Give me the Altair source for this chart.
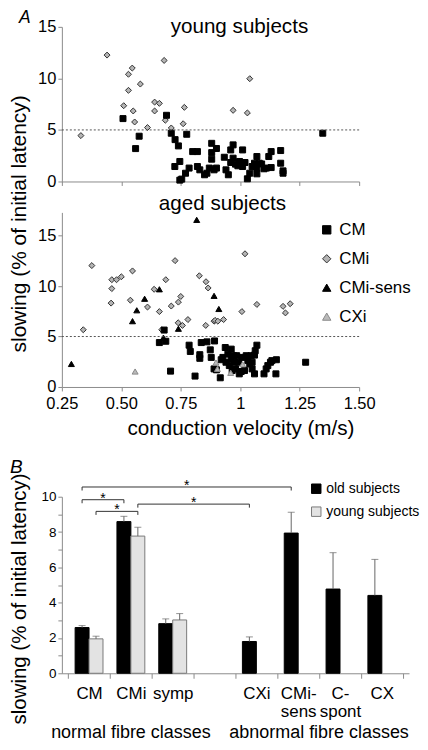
import altair as alt
import pandas as pd

FONT = "Liberation Sans"

# ---------------- Panel A data ----------------
# young subjects
young_cm_cv = [0.507, 0.69, 0.575, 0.56, 0.71, 0.775, 0.726, 0.74, 0.725, 0.746,
               0.746, 0.754, 0.80, 0.82, 0.77, 0.785, 0.82, 0.83, 0.85, 0.86,
               0.87, 0.88, 0.88, 0.88, 0.89, 0.90, 0.90, 0.933, 0.94, 0.95,
               0.96, 0.96, 0.97, 0.97, 0.98, 0.99, 0.997, 1.01, 1.01, 1.02,
               1.03, 1.04, 1.05, 1.06, 1.07, 1.07, 1.07, 1.08, 1.09, 1.10,
               1.11, 1.12, 1.13, 1.13, 1.17, 1.17, 1.18, 1.18, 1.347]
young_cm_slow = [6.1, 6.42, 4.39, 3.19, 4.68, 4.58, 4.06, 3.45, 1.45, 1.94,
                 0.13, 0.23, 2.9, 2.9, 0.8, 1.3, 1.45, 1.13, 0.65, 0.8,
                 1.3, 3.7, 2.8, 2.16, 1.13, 3.2, 1.3, 2.35, 1.13, 0.65,
                 1.84, 3.06, 3.55, 2.26, 1.68, 1.52, 1.94, 3.06, 1.45, 1.84,
                 0.26, 0.8, 1.45, 1.77, 2.42, 1.3, 0.74, 1.77, 1.7, 1.23,
                 1.3, 2.42, 1.35, 2.9, 3.0, 1.77, 1.03, 0.8, 4.68]
young_cmi_cv = [0.33, 0.44, 0.53, 0.546, 0.53, 0.58, 0.51, 0.55, 0.556, 0.61,
                0.64, 0.66, 0.64, 0.68, 0.685, 0.71, 0.76, 0.765, 0.97, 1.03, 1.04]
young_cmi_slow = [4.45, 12.26, 10.4, 11.0, 8.84, 9.45, 7.35, 6.84, 5.77, 5.23,
                  7.7, 7.58, 6.84, 11.74, 5.94, 5.19, 5.6, 7.19, 6.9, 6.65, 9.97]

# aged subjects
aged_cm_cv = [0.66, 0.68, 0.687, 0.707, 0.785, 0.79, 0.81, 0.83, 0.83, 0.836,
              0.86, 0.874, 0.878, 0.892, 0.89, 0.90, 0.916, 0.92, 0.927, 0.937,
              0.94, 0.948, 0.954, 0.962, 0.962, 0.966, 0.972, 0.976, 0.98, 0.985,
              0.993, 0.996, 1.004, 1.007, 1.018, 1.025, 1.032, 1.04, 1.046, 1.05,
              1.05, 1.06, 1.063, 1.07, 1.06, 1.10, 1.109, 1.116, 1.127, 1.133,
              1.152, 1.15, 1.275]
aged_cm_slow = [4.4, 5.64, 4.53, 1.57, 4.14, 3.52, 1.08, 3.2, 2.84, 4.4,
                4.47, 3.68, 2.93, 4.56, 1.79, 1.7, 0.91, 2.7, 2.93, 3.91,
                2.45, 3.26, 2.12, 3.75, 2.77, 1.63, 3.1, 2.45, 1.79, 3.1,
                2.45, 1.3, 1.53, 2.93, 1.63, 3.1, 2.61, 2.28, 3.1, 1.79,
                2.45, 3.16, 3.59, 4.14, 1.3, 1.3, 1.79, 2.12, 2.45, 2.61,
                2.7, 1.3, 2.45]
aged_cmi_cv = [0.34, 0.376, 0.457, 0.46, 0.46, 0.48, 0.50, 0.538, 0.547, 0.61,
               0.638, 0.66, 0.67, 0.687, 0.71, 0.726, 0.74, 0.75, 0.739, 0.757,
               0.78, 0.828, 0.856, 0.865, 0.855, 0.89, 0.894, 0.906, 0.93, 1.007,
               1.02, 1.07, 1.18, 1.19, 1.21]
aged_cmi_slow = [5.67, 12.03, 8.31, 9.75, 10.63, 10.63, 10.92, 8.6, 11.5, 7.92,
                 9.68, 7.47, 5.67, 10.63, 8.02, 12.52, 8.41, 8.97, 6.36, 6.1,
                 6.68, 11.02, 10.43, 9.81, 6.1, 6.52, 6.6, 6.52, 6.68, 7.47,
                 13.2, 8.18, 7.99, 7.34, 8.25]
aged_sens_cv = [0.29, 0.547, 0.565, 0.598, 0.66, 0.677, 0.74, 0.817, 0.89, 0.91]
aged_sens_slow = [2.28, 6.52, 7.6, 8.74, 9.68, 4.89, 5.77, 16.56, 9.03, 7.73]
aged_cxi_cv = [0.558, 0.898, 0.904, 0.96, 1.01]
aged_cxi_slow = [1.53, 2.42, 1.79, 1.4, 2.25]

fibre_types = ["CM", "CMi", "CMi-sens", "CXi"]
type_fill = ["#000000", "#b4b4b4", "#000000", "#bababa"]
type_stroke = ["#000000", "#333333", "#000000", "#8a8a8a"]
type_shape = ["square", "diamond", "triangle-up", "triangle-up"]
draw_order = {"CMi": 0, "CM": 1, "CMi-sens": 2, "CXi": 3}
cv_ticks = [0.25, 0.5, 0.75, 1.0, 1.25, 1.5]

# panel letters
panel_letters = ["A", "B"]

# ---------------- Panel B data ----------------
classes = ["CM", "CMi", "symp", " ", "CXi", "CMi-sens", "C-spont", "CX"]
groups = ["old subjects", "young subjects"]
old_mean = [2.59, 8.59, 2.81, None, 1.80, 7.94, 4.77, 4.41]
old_sem = [0.11, 0.30, 0.27, None, 0.26, 1.18, 2.06, 2.04]
young_mean = [1.95, 7.77, 3.02, None, None, None, None, None]
young_sem = [0.15, 0.50, 0.36, None, None, None, None, None]

brk_from_cls = ["CM", "CM", "CM", "CMi"]
brk_from_grp = ["old subjects", "old subjects", "young subjects", "young subjects"]
brk_to_cls = ["CMi-sens", "CMi", "CMi", "CXi"]
brk_to_grp = ["old subjects", "old subjects", "young subjects", "old subjects"]
brk_level = [10.55, 9.83, 9.17, 9.58]
brk_drop = 0.2


def frame(cv, slow, t):
    return pd.DataFrame({"cv": cv, "slow": slow, "type": t, "z": draw_order[t]})


young_df = pd.concat([frame(young_cmi_cv, young_cmi_slow, "CMi"),
                      frame(young_cm_cv, young_cm_slow, "CM")])
aged_df = pd.concat([frame(aged_cmi_cv, aged_cmi_slow, "CMi"),
                     frame(aged_cm_cv, aged_cm_slow, "CM"),
                     frame(aged_sens_cv, aged_sens_slow, "CMi-sens"),
                     frame(aged_cxi_cv, aged_cxi_slow, "CXi")])

SW = 298
TOP_H = 155
BOT_H = 175


def letter(txt, size, lx, ly):
    return alt.Chart(pd.DataFrame({"t": [txt]})).mark_text(
        font=FONT, fontSize=size, fontStyle="italic", align="left",
        baseline="top", color="black").encode(
        text="t:N", x=alt.value(lx), y=alt.value(ly))


def scatter(df, ymax, height, top, label, label_x, label_y):
    xs = alt.Scale(domain=[0.25, 1.5], nice=False, zero=False)
    ys = alt.Scale(domain=[0, ymax], nice=False)
    if top:
        xa = alt.Axis(values=cv_ticks, labels=False, tickSize=4, title=None)
        ya = alt.Axis(values=[0, 5, 10, 15], tickSize=4, labelFontSize=16.5,
                      labelPadding=2, labelOverlap=False,
                      title="slowing (% of initial latency)",
                      titleFontSize=21, titleFontWeight="normal", titleX=-42,
                      titleY=197, titleAngle=270, titleBaseline="middle",
                      titleAlign="center")
        leg = None
    else:
        xa = alt.Axis(values=cv_ticks, tickSize=4, labelFontSize=16.5,
                      labelPadding=5, labelFlush=False, labelOverlap=False,
                      labelExpr="datum.value == 1 ? '1' : format(datum.value, '.2f')",
                      title="conduction velocity (m/s)", titleFontSize=20.7,
                      titleFontWeight="normal", titleX=179, titleY=48,
                      titleBaseline="alphabetic", titleAlign="center")
        ya = alt.Axis(values=[0, 5, 10, 15], tickSize=4, labelFontSize=16.5,
                      labelPadding=2, labelOverlap=False, title=None)
        leg = alt.Legend(orient="none", legendX=257, legendY=9, title=None,
                         labelFontSize=17, labelFont=FONT, symbolSize=70,
                         symbolStrokeWidth=1, rowPadding=11, labelOffset=4)
    pts = alt.Chart(df).mark_point(filled=True, strokeWidth=1, opacity=1, size=36).encode(
        x=alt.X("cv:Q", scale=xs, axis=xa),
        y=alt.Y("slow:Q", scale=ys, axis=ya),
        fill=alt.Fill("type:N", scale=alt.Scale(domain=fibre_types, range=type_fill), legend=leg),
        stroke=alt.Stroke("type:N", scale=alt.Scale(domain=fibre_types, range=type_stroke), legend=leg),
        shape=alt.Shape("type:N", scale=alt.Scale(domain=fibre_types, range=type_shape), legend=leg),
        order=alt.Order("z:Q"),
    )
    ref = alt.Chart(pd.DataFrame({"slow": [5]})).mark_rule(
        strokeDash=[2, 2], color="#555555", strokeWidth=1).encode(
        y=alt.Y("slow:Q", scale=ys, axis=ya))
    ttl = alt.Chart(pd.DataFrame({"t": [label]})).mark_text(
        font=FONT, fontSize=20.7, align="center", baseline="alphabetic", color="black").encode(
        text="t:N", x=alt.value(label_x), y=alt.value(label_y))
    layers = [pts, ref, ttl]
    if top:
        layers.append(letter(panel_letters[0], 17.5, -43, -18))
    return alt.layer(*layers).properties(width=SW, height=height)


top_chart = scatter(young_df, 15, TOP_H, True, "young subjects", 178, 6)
bot_chart = scatter(aged_df, 17.3, BOT_H, False, "aged subjects", 161, -2.5)

# ---------------- Panel B chart ----------------
BW = 348
BH = 177
PO = 0.15

bar_rows = []
for i, c in enumerate(classes):
    if old_mean[i] is not None:
        bar_rows.append({"cls": c, "grp": groups[0], "mean": old_mean[i],
                         "top": old_mean[i] + old_sem[i]})
    if young_mean[i] is not None:
        bar_rows.append({"cls": c, "grp": groups[1], "mean": young_mean[i],
                         "top": young_mean[i] + young_sem[i]})
bar_df = pd.DataFrame(bar_rows)

xscale = alt.Scale(domain=classes, paddingInner=0, paddingOuter=PO)
oscale = alt.Scale(domain=groups, paddingInner=0, paddingOuter=0.5)
yscale = alt.Scale(domain=[0, 10], nice=False)

label_expr = ("datum.value == 'CMi-sens' ? ['CMi-', 'sens'] : "
              "datum.value == 'C-spont' ? ['C-', 'spont'] : datum.value")
bx_axis = alt.Axis(title=None, labelExpr=label_expr, tickBand="extent", tickSize=5,
                   labelFontSize=17, labelLineHeight=18, labelPadding=7, labelAngle=0)
by_axis = alt.Axis(values=list(range(11)), labelExpr="datum.value % 2 == 0 ? datum.label : ''",
                   tickSize=4, labelFontSize=13.5, labelPadding=2, labelOverlap=False,
                   title="slowing (% of initial latency)", titleFontSize=20.5,
                   titleFontWeight="normal", titleX=-42, titleY=102, titleAngle=270,
                   titleBaseline="middle", titleAlign="center")

bar_leg = alt.Legend(orient="none", legendX=248, legendY=-15, title=None,
                     labelFontSize=14, labelFont=FONT, symbolType="square",
                     symbolSize=90, symbolStrokeWidth=1, rowPadding=9, labelOffset=3)


def bx():
    return alt.X("cls:N", scale=xscale, axis=bx_axis)


def bxo():
    return alt.XOffset("grp:N", scale=oscale)


def by(field):
    return alt.Y(field, scale=yscale, axis=by_axis)


bars = alt.Chart(bar_df).mark_bar(strokeWidth=1).encode(
    x=bx(), xOffset=bxo(), y=by("mean:Q"),
    fill=alt.Fill("grp:N", scale=alt.Scale(domain=groups, range=["#000000", "#e3e3e3"]), legend=bar_leg),
    stroke=alt.Stroke("grp:N", scale=alt.Scale(domain=groups, range=["#000000", "#7a7a7a"]), legend=bar_leg),
)
err = alt.Chart(bar_df).mark_rule(color="#666666", strokeWidth=1).encode(
    x=bx(), xOffset=bxo(), y=by("mean:Q"), y2="top:Q",
)
caps = alt.Chart(bar_df).mark_tick(color="#666666", thickness=1, size=7).encode(
    x=bx(), xOffset=bxo(), y=by("top:Q"),
)

brk_rows = []
for b in range(len(brk_level)):
    pts = [(brk_from_cls[b], brk_from_grp[b], brk_level[b] - brk_drop),
           (brk_from_cls[b], brk_from_grp[b], brk_level[b]),
           (brk_to_cls[b], brk_to_grp[b], brk_level[b]),
           (brk_to_cls[b], brk_to_grp[b], brk_level[b] - brk_drop)]
    for s, (c, g, v) in enumerate(pts):
        brk_rows.append({"id": b, "seq": s, "cls": c, "grp": g, "mean": v})
brk_df = pd.DataFrame(brk_rows)

brackets = alt.Chart(brk_df).mark_line(color="#333333", strokeWidth=1).encode(
    x=bx(), xOffset=bxo(), y=by("mean:Q"),
    detail="id:N",
    order="seq:Q",
)

# star positions: midpoint between the two bracket ends, derived from the band scale
step = BW / (len(classes) + 2 * PO)
ostep = step / (len(groups) + 2 * 0.5)


def band_pos(c, g):
    return (PO + classes.index(c)) * step + (0.5 + 0.5 + groups.index(g)) * ostep


star_layers = []
for b in range(len(brk_level)):
    half = (band_pos(brk_to_cls[b], brk_to_grp[b]) - band_pos(brk_from_cls[b], brk_from_grp[b])) / 2
    sdf = pd.DataFrame({"cls": [brk_from_cls[b]], "grp": [brk_from_grp[b]],
                        "mean": [brk_level[b]], "t": ["*"]})
    star_layers.append(alt.Chart(sdf).mark_text(
        font=FONT, fontSize=14, baseline="alphabetic", align="center", dx=half, dy=3,
        color="black").encode(
        x=bx(), xOffset=bxo(), y=by("mean:Q"), text="t:N"))

group_labels = ["normal fibre classes", "abnormal fibre classes"]
group_anchor = ["CMi", "C-spont"]
group_dx = [0, -step / 2]
group_layers = []
for k in range(2):
    gdf = pd.DataFrame({"cls": [group_anchor[k]], "t": [group_labels[k]]})
    group_layers.append(alt.Chart(gdf).mark_text(
        font=FONT, fontSize=18, baseline="alphabetic", align="center", dx=group_dx[k],
        color="black").encode(
        x=bx(), y=alt.value(242), text="t:N"))

# panel letter "B" as the chart title, anchored at the left edge of the panel's bounds
bar_chart = alt.layer(bars, err, caps, brackets, *star_layers, *group_layers).properties(
    width=BW, height=BH,
    title=alt.Title(panel_letters[1], anchor="start", frame="bounds", orient="top",
                    font=FONT, fontSize=19, fontStyle="italic", fontWeight="normal",
                    color="black", offset=0, dy=4))

# empty gap between panel A and panel B
gap = alt.Chart(pd.DataFrame({"t": [""]})).mark_text().encode(
    text="t:N", x=alt.value(0), y=alt.value(0)).properties(width=1, height=48)

chart = alt.vconcat(top_chart, bot_chart, gap, bar_chart, spacing=31, bounds="flush").resolve_scale(
    fill="independent", stroke="independent", shape="independent"
).resolve_legend(
    fill="independent", stroke="independent", shape="independent"
).properties(padding=0).configure_view(stroke=None).configure_axis(
    domainColor="#8c8c8c", tickColor="#8c8c8c", labelColor="black", titleColor="black",
    labelFont=FONT, titleFont=FONT, grid=False
).configure_legend(labelFont=FONT).configure_text(font=FONT)

chart.save("out.html", embed_options={"renderer": "svg", "actions": False})
